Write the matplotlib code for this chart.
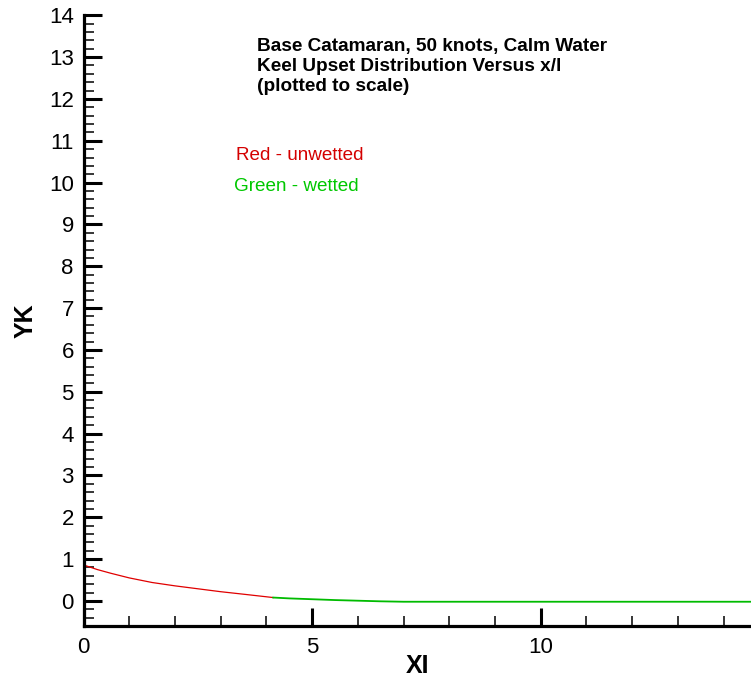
import matplotlib
matplotlib.use("Agg")
import matplotlib.pyplot as plt
from matplotlib.ticker import MultipleLocator, FixedLocator

plt.rcParams['font.family'] = ['Liberation Sans', 'DejaVu Sans']

# Data
x_unwetted = [0.0, 0.3, 0.6, 1.0, 1.5, 2.0, 2.5, 3.0, 3.5, 4.15]
y_unwetted = [0.86, 0.75, 0.66, 0.55, 0.44, 0.36, 0.29, 0.22, 0.16, 0.08]
x_wetted = [4.15, 4.5, 5.0, 5.5, 6.0, 6.5, 7.0, 8.0, 10.0, 12.0, 14.6]
y_wetted = [0.08, 0.06, 0.04, 0.02, 0.005, -0.01, -0.02, -0.02, -0.02, -0.02, -0.02]

x_major = [0, 5, 10]
y_major = list(range(0, 15))

title_lines = ["Base Catamaran, 50 knots, Calm Water",
               "Keel Upset Distribution Versus x/l",
               "(plotted to scale)"]

fig = plt.figure(figsize=(7.51, 6.83), dpi=100)
ax = fig.add_axes([83.5 / 751, 57 / 683, 1 - 83.5 / 751, (626 - 15.3) / 683])

ax.plot(x_unwetted, y_unwetted, color='#e00000', lw=0.9)
ax.plot(x_wetted, y_wetted, color='#00bb00', lw=1.3)

ax.set_xlim(0, 14.6)
ax.set_ylim(-0.6, 14)

ax.spines['top'].set_visible(False)
ax.spines['right'].set_visible(False)
ax.spines['left'].set_linewidth(2.3)
ax.spines['bottom'].set_linewidth(2.3)

ax.xaxis.set_major_locator(FixedLocator(x_major))
ax.xaxis.set_minor_locator(MultipleLocator(1))
ax.yaxis.set_major_locator(FixedLocator(y_major))
ax.yaxis.set_minor_locator(MultipleLocator(0.2))

ax.tick_params(which='major', direction='in', length=13, width=2.2,
               labelsize=16, pad=7, color='black')
ax.tick_params(which='minor', direction='in', length=7.5, width=1.1, color='black')
ax.tick_params(axis='x', which='major', pad=8)

ax.set_xlabel('XI', fontsize=18, fontweight='bold', labelpad=-3)
ax.set_ylabel('YK', fontsize=18, fontweight='bold', labelpad=8)

fig.text(257 / 751, 1 - 38 / 683, "\n".join(title_lines), fontsize=13.7,
         fontweight='bold', ha='left', va='top', linespacing=1.22)
fig.text(236 / 751, 1 - 156 / 683, "Red - unwetted", fontsize=13.6,
         color='#d40000', ha='left', va='center')
fig.text(234 / 751, 1 - 186 / 683, "Green - wetted", fontsize=13.6,
         color='#00c800', ha='left', va='center')

fig.savefig('out.png', dpi=100)
